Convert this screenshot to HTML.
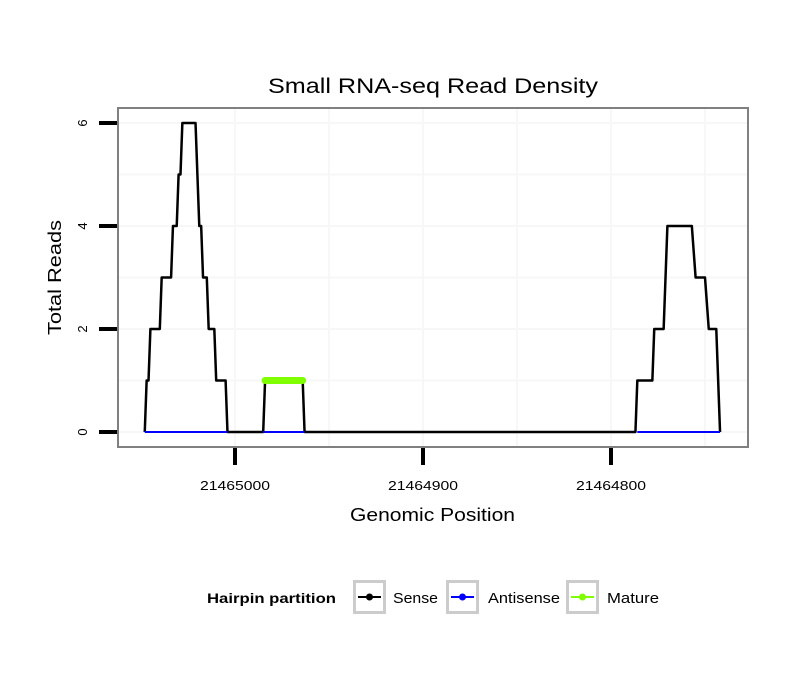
<!DOCTYPE html>
<html><head><meta charset="utf-8"><style>
body{margin:0;background:#fff;}
svg{display:block;font-family:"Liberation Sans",sans-serif;}
</style></head><body>
<svg width="810" height="690" viewBox="0 0 810 690">
<g id="plot"></g>
</svg>
<script>
const senseOffsets=[48,47,46,45,40,39,34,33,31,30,29,28,21,19,18,17,15,14,11,10,5,4,-15,-16,-36,-37,-213,-214,-222,-223,-228,-230,-243,-245,-250,-252,-256,-258];
const senseValues=[0,1,1,2,2,3,3,4,4,5,5,6,6,4,4,3,3,2,2,1,1,0,0,1,1,0,0,1,1,2,2,4,4,3,3,2,2,0];
const antisenseRanges=[[48,4],[-15,-37],[-214,-258]];
const matureOffsets=[-16,-36];
const matureValues=[1,1];
const xTicks=[21465000,21464900,21464800];
const yTicks=[0,2,4,6];
const basePos=21465000;

const NS="http://www.w3.org/2000/svg";
const g=document.getElementById('plot');
const L=118,R=748,T=108,B=447;
function xs(p){return 235+(basePos-p)*1.88;}
function ys(v){return 432-v*51.5;}
function mk(t,a,p){const e=document.createElementNS(NS,t);for(const k in a)e.setAttribute(k,a[k]);(p||g).appendChild(e);return e;}

const panel=mk('rect',{x:L,y:T,width:R-L,height:B-T,fill:'#fff'});


for(let v=0;v<=6.5;v+=1){const l=mk('line',{x1:L,x2:R,y1:ys(v),y2:ys(v),stroke:'#f7f7f7','stroke-width':2});

}
for(let p=21465000;p>=21464750;p-=50){const x=xs(p);if(x<L||x>R)continue;const l=mk('line',{x1:x,x2:x,y1:T,y2:B,stroke:'#f7f7f7','stroke-width':2});

}
const sp=senseOffsets.map((o,i)=>xs(basePos+o)+','+ys(senseValues[i])).join(' ');
const sl=mk('polyline',{points:sp,fill:'none',stroke:'#000','stroke-width':2.5,'stroke-linejoin':'round'});


antisenseRanges.forEach(r=>{const l=mk('line',{x1:xs(basePos+r[0]),x2:xs(basePos+r[1]),y1:ys(0),y2:ys(0),stroke:'#0000ff','stroke-width':2});

});
const mp=matureOffsets.map((o,i)=>xs(basePos+o)+','+ys(matureValues[i])).join(' ');
const ml=mk('polyline',{points:mp,fill:'none',stroke:'#7fff00','stroke-width':7,'stroke-linecap':'round'});


const bd=mk('rect',{x:L,y:T,width:R-L,height:B-T,fill:'none',stroke:'#808080','stroke-width':2});


yTicks.forEach(v=>{const t=mk('line',{x1:99,x2:117,y1:ys(v),y2:ys(v),stroke:'#000','stroke-width':4});


const tx=mk('text',{x:0,y:0,transform:`translate(87,${ys(v)}) rotate(-90)`,'text-anchor':'middle','font-size':13});
tx.textContent=v;

});
xTicks.forEach(p=>{const x=xs(p);const t=mk('line',{x1:x,x2:x,y1:448,y2:465,stroke:'#000','stroke-width':4});


const tx=mk('text',{x:x,y:490,'text-anchor':'middle','font-size':13,textLength:70,lengthAdjust:'spacingAndGlyphs'});
tx.textContent=p;

});
</script>
<svg width="810" height="690" style="position:absolute;left:0;top:0">
<text x="268" y="93" font-size="21" textLength="330" lengthAdjust="spacingAndGlyphs">Small RNA-seq Read Density</text>
<text x="350" y="521" font-size="18" textLength="165" lengthAdjust="spacingAndGlyphs">Genomic Position</text>
<text x="0" y="0" transform="translate(61,335) rotate(-90)" font-size="18" textLength="115" lengthAdjust="spacingAndGlyphs">Total Reads</text>
<g>
<text x="207" y="603" font-size="14" font-weight="bold" textLength="129" lengthAdjust="spacingAndGlyphs">Hairpin partition</text>
<g>
<rect x="354.5" y="581.5" width="30" height="31" fill="#fff" stroke="#cccccc" stroke-width="3"/>
<line x1="358" x2="381" y1="597" y2="597" stroke="#000" stroke-width="2"/><circle cx="369.5" cy="597" r="3.5" fill="#000"/>
<text x="393" y="603" font-size="15" textLength="45" lengthAdjust="spacingAndGlyphs">Sense</text></g>
<g>
<rect x="447.5" y="581.5" width="30" height="31" fill="#fff" stroke="#cccccc" stroke-width="3"/>
<line x1="451" x2="474" y1="597" y2="597" stroke="#0000ff" stroke-width="2"/><circle cx="462.5" cy="597" r="3.5" fill="#0000ff"/>
<text x="488" y="603" font-size="15" textLength="72" lengthAdjust="spacingAndGlyphs">Antisense</text></g>
<g>
<rect x="567.5" y="581.5" width="30" height="31" fill="#fff" stroke="#cccccc" stroke-width="3"/>
<line x1="571" x2="594" y1="597" y2="597" stroke="#7fff00" stroke-width="2"/><circle cx="582.5" cy="597" r="3.5" fill="#7fff00"/>
<text x="607" y="603" font-size="15" textLength="52" lengthAdjust="spacingAndGlyphs">Mature</text></g>
</g>
</svg>
</body></html>
